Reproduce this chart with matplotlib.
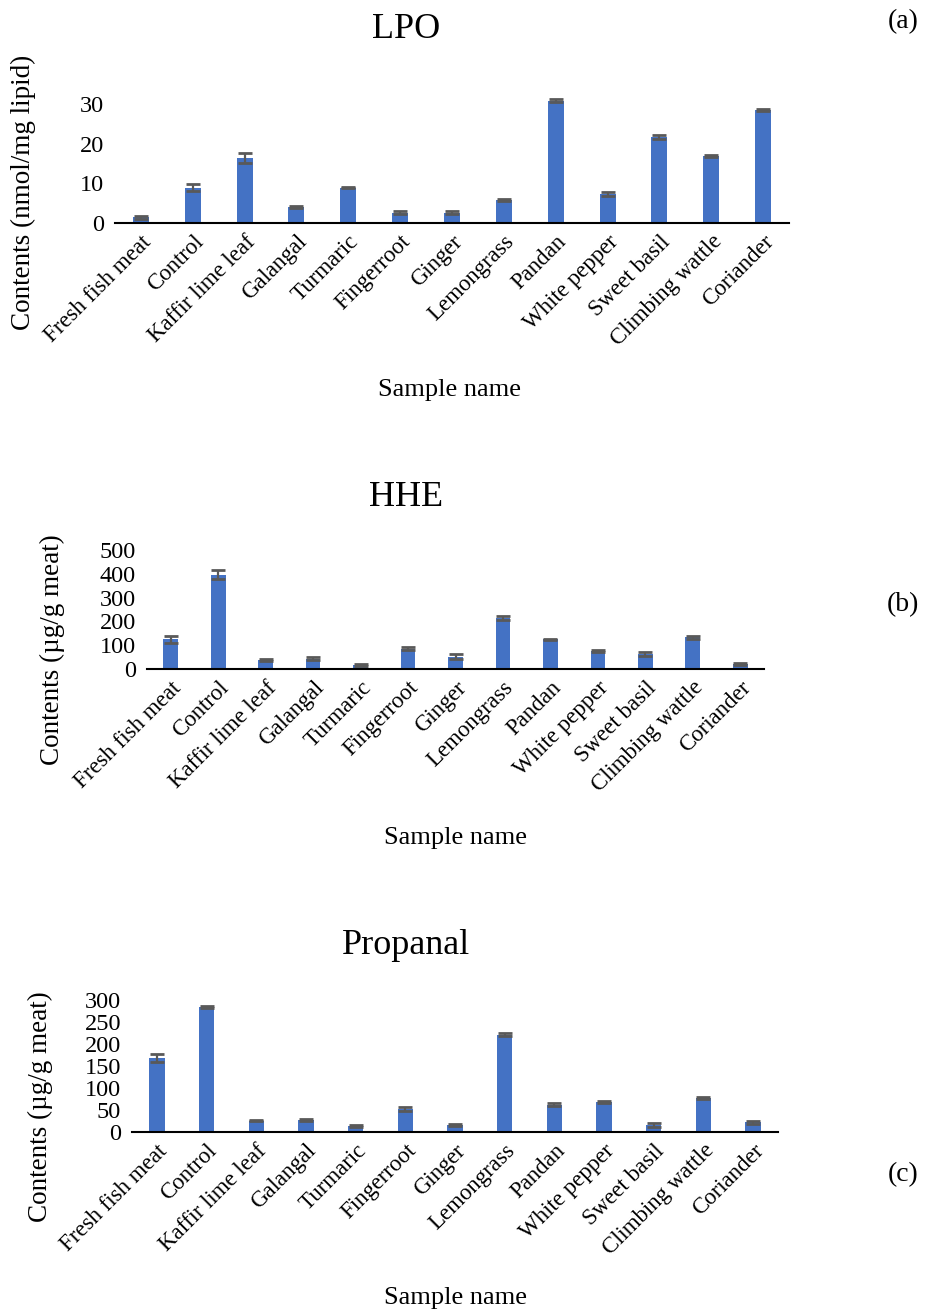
import matplotlib.pyplot as plt
import numpy as np

plt.rcParams['font.family'] = ['Liberation Serif', 'DejaVu Serif']

samples = ['Fresh fish meat', 'Control', 'Kaffir lime leaf', 'Galangal', 'Turmaric',
           'Fingerroot', 'Ginger', 'Lemongrass', 'Pandan', 'White pepper',
           'Sweet basil', 'Climbing wattle', 'Coriander']

lpo = [1.4, 8.9, 16.4, 4.1, 8.9, 2.6, 2.6, 5.8, 30.8, 7.2, 21.6, 16.8, 28.4]
lpo_err = [0.4, 0.9, 1.3, 0.3, 0.2, 0.3, 0.3, 0.2, 0.4, 0.5, 0.5, 0.3, 0.3]

hhe = [124, 397, 39, 44, 17, 86, 51, 214, 124, 74, 63, 133, 21]
hhe_err = [15, 17, 5, 6, 5, 5, 10, 8, 4, 4, 7, 5, 4]

propanal = [168, 284, 26, 27, 14, 52, 16, 221, 62, 68, 16, 77, 22]
propanal_err = [9, 3, 2, 3, 3, 4, 3, 3, 3, 3, 4, 3, 3]

W, H = 925, 1313
fig = plt.figure(figsize=(W / 100, H / 100), dpi=100)


def px_axes(left, right, top, bottom):
    return fig.add_axes([left / W, 1 - bottom / H, (right - left) / W, (bottom - top) / H])


def px_text(x, y, s, **kw):
    fig.text(x / W, 1 - y / H, s, ha='center', va='center', **kw)


panels = [
    (lpo, lpo_err, (115, 789, 84, 223), 35, [0, 10, 20, 30]),
    (hhe, hhe_err, (147, 764, 550, 669), 500, [0, 100, 200, 300, 400, 500]),
    (propanal, propanal_err, (132, 778, 1000, 1132), 300, [0, 50, 100, 150, 200, 250, 300]),
]

x = np.arange(len(samples))
for vals, errs, box, ymax, ticks in panels:
    ax = px_axes(*box)
    ax.bar(x, vals, width=0.31, color='#4472C4', yerr=errs,
           error_kw=dict(ecolor='#595959', capsize=5, elinewidth=1.6, capthick=2))
    ax.set_xlim(-0.5, len(samples) - 0.5)
    ax.set_ylim(0, ymax)
    ax.set_yticks(ticks)
    ax.set_xticks(x)
    ax.set_xticklabels(samples, rotation=45, ha='right', rotation_mode='anchor', fontsize=16.5)
    ax.tick_params(axis='y', length=0, labelsize=17.5, pad=8)
    ax.tick_params(axis='x', length=0, pad=6)
    for s in ['top', 'right', 'left']:
        ax.spines[s].set_visible(False)
    ax.spines['bottom'].set_linewidth(1.5)

# titles
px_text(406, 30, 'LPO', fontsize=26)
px_text(406, 497, 'HHE', fontsize=26)
px_text(406, 945, 'Propanal', fontsize=26)

# y labels
px_text(23, 192, 'Contents (nmol/mg lipid)', fontsize=19.5, rotation=90)
px_text(52, 650, 'Contents (µg/g meat)', fontsize=19.5, rotation=90)
px_text(40, 1107, 'Contents (µg/g meat)', fontsize=19.5, rotation=90)

# x labels
px_text(450, 390, 'Sample name', fontsize=19)
px_text(456, 838, 'Sample name', fontsize=19)
px_text(456, 1298, 'Sample name', fontsize=19)

# panel letters
px_text(903, 22, '(a)', fontsize=20)
px_text(903, 605, '(b)', fontsize=20)
px_text(903, 1175, '(c)', fontsize=20)

fig.savefig('out.png', dpi=100)
